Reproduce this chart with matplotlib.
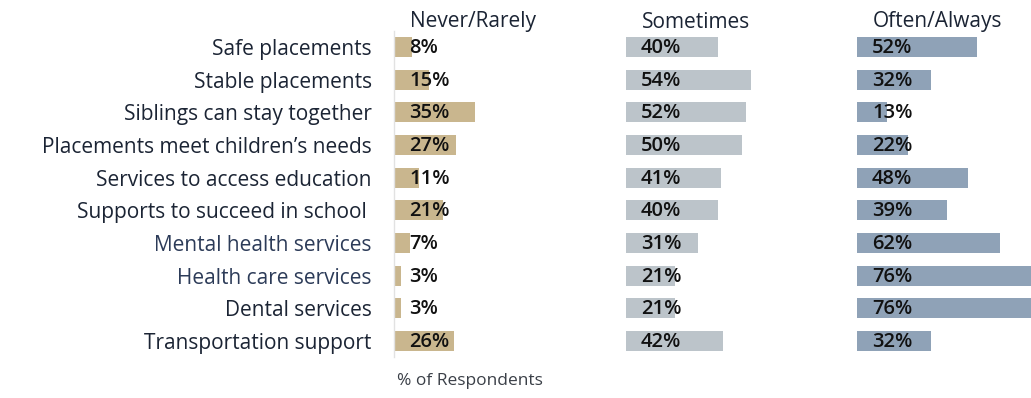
import matplotlib.pyplot as plt

plt.rcParams['font.family'] = ['Open Sans', 'DejaVu Sans']

categories = [
    "Safe placements",
    "Stable placements",
    "Siblings can stay together",
    "Placements meet children\u2019s needs",
    "Services to access education",
    "Supports to succeed in school ",
    "Mental health services",
    "Health care services",
    "Dental services",
    "Transportation support",
]
never_rarely = [8, 15, 35, 27, 11, 21, 7, 3, 3, 26]
sometimes = [40, 54, 52, 50, 41, 40, 31, 21, 21, 42]
often_always = [52, 32, 13, 22, 48, 39, 62, 76, 76, 32]

panel_titles = ["Never/Rarely", "Sometimes", "Often/Always"]
panel_colors = ["#c9b68e", "#bcc4ca", "#8fa2b7"]
label_colors = ["#1b2434"] * 6 + ["#2c3b58", "#2c3b58", "#1b2434", "#1b2434"]

W, H = 1031, 398
fig = plt.figure(figsize=(W / 100, H / 100), dpi=100)

row_top, row_bot = 30.7, 357.3
bottom = 1 - row_bot / H
height = (row_bot - row_top) / H
px_per_pct = 2.31
lefts = [394, 626, 857]

series = [never_rarely, sometimes, often_always]
axes = []
for i, (vals, title, color) in enumerate(zip(series, panel_titles, panel_colors)):
    left = lefts[i]
    width_px = min(231, W - left)
    ax = fig.add_axes([left / W, bottom, width_px / W, height])
    ax.set_xlim(0, width_px / px_per_pct)
    ax.set_ylim(len(categories) - 0.5, -0.5)
    ax.barh(range(len(categories)), vals, height=0.61, color=color)
    for j, v in enumerate(vals):
        ax.annotate(f"{v}%", xy=(0, j), xytext=(15, -1), textcoords="offset pixels",
                    ha="left", va="center", fontsize=14.5, fontweight="semibold",
                    color="#111111")
    fig.text((left + 16) / W, 1 - 22 / H, title, ha="left", va="center",
             fontsize=15, color="#1b2434")
    for s in ax.spines.values():
        s.set_visible(False)
    ax.set_xticks([])
    ax.set_yticks([])
    axes.append(ax)

# category labels and the faint baseline belong to the first panel
ax1 = axes[0]
ax1.spines['left'].set_visible(True)
ax1.spines['left'].set_color("#e2e2e2")
ax1.spines['left'].set_linewidth(1)
ax1.set_yticks(range(len(categories)))
ax1.set_yticklabels(categories, fontsize=15)
for lbl, c in zip(ax1.get_yticklabels(), label_colors):
    lbl.set_color(c)
ax1.tick_params(axis='y', length=0, pad=16)

fig.text(397 / W, 1 - 381 / H, "% of Respondents", ha="left", va="center",
         fontsize=12.5, color="#3a3f47")

fig.savefig("out.png", dpi=100, facecolor="white")
